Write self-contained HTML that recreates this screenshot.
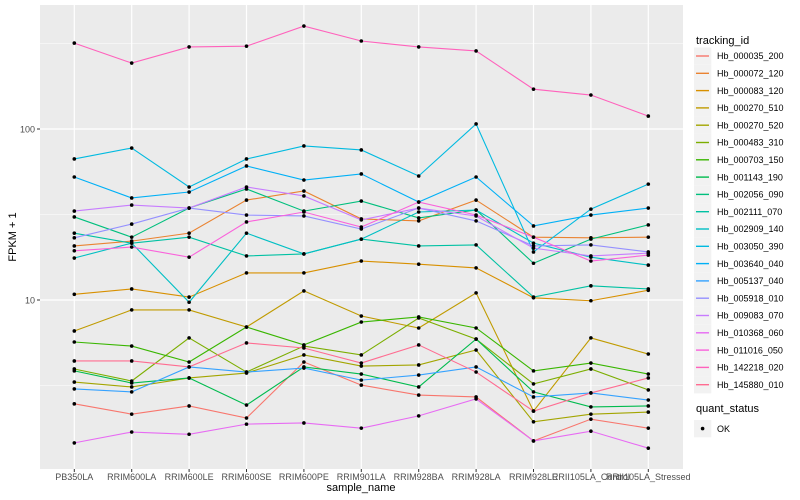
<!DOCTYPE html>
<html><head><meta charset="utf-8"><style>
body{margin:0;background:#fff}
svg{display:block;font-family:"Liberation Sans",sans-serif}
</style></head><body>
<svg id="chart" width="800" height="500" viewBox="0 0 800 500">
<rect x="0" y="0" width="800" height="500" fill="#fff"/>
<rect x="40" y="5" width="643" height="464" fill="#EBEBEB"/>
<g id="grid"></g>
<g id="series"></g>
<g id="axes"></g>
<text x="361" y="491" font-size="11" text-anchor="middle" fill="#000">sample_name</text>
<text transform="translate(16,237) rotate(-90)" font-size="11" text-anchor="middle" fill="#000">FPKM + 1</text>
<g id="legend"></g>
</svg>
<script>
const categories = ["PB350LA","RRIM600LA","RRIM600LE","RRIM600SE","RRIM600PE","RRIM901LA","RRIM928BA","RRIM928LA","RRIM928LE","RRII105LA_Control","RRII105LA_Stressed"];
const seriesNames = ["Hb_000035_200","Hb_000072_120","Hb_000083_120","Hb_000270_510","Hb_000270_520","Hb_000483_310","Hb_000703_150","Hb_001143_190","Hb_002056_090","Hb_002111_070","Hb_002909_140","Hb_003050_390","Hb_003640_040","Hb_005137_040","Hb_005918_010","Hb_009083_070","Hb_010368_060","Hb_011016_050","Hb_142218_020","Hb_145880_010"];
const seriesColors = ["#F8766D","#EA8331","#D89000","#C09B00","#A3A500","#7CAE00","#39B600","#00BB4E","#00BF7D","#00C1A3","#00BFC4","#00BAE0","#00B0F6","#35A2FF","#9590FF","#C77CFF","#E76BF3","#FA62DB","#FF62BC","#FF6C91"];
const s000035_200 = [2.47,2.15,2.40,2.04,4.34,3.18,2.78,2.71,1.50,2.01,1.78];
const s000072_120 = [20.7,22.1,24.6,38.4,43.4,29.8,29.0,38.4,23.3,23.1,23.3];
const s000083_120 = [10.8,11.6,10.4,14.4,14.4,16.9,16.2,15.4,10.3,9.9,11.4];
const s000270_510 = [6.59,8.75,8.75,6.95,11.3,8.06,6.86,11.0,2.24,6.0,4.83];
const s000270_520 = [3.31,3.10,3.50,3.74,4.77,4.11,4.17,5.10,1.94,2.15,2.21];
const s000483_310 = [3.95,3.36,6.0,3.79,5.38,4.77,7.85,5.91,3.23,3.95,2.98];
const s000703_150 = [5.68,5.38,4.34,6.95,5.46,7.43,7.96,6.86,3.85,4.28,3.69];
const s001143_190 = [3.85,3.27,3.50,2.43,4.06,3.69,3.10,5.91,2.90,2.37,2.40];
const s002056_090 = [30.6,23.3,34.5,44.6,33.1,37.9,30.2,33.6,16.4,22.7,27.5];
const s002111_070 = [24.6,21.5,23.3,18.1,18.6,22.7,20.7,21.0,10.4,12.1,11.6];
const s002909_140 = [17.6,21.5,9.7,24.6,18.6,22.7,32.7,33.6,21.5,17.8,16.0];
const s003050_390 = [66.8,77.4,45.8,66.8,79.6,75.4,53.1,107,19.1,34.0,47.6];
const s003640_040 = [52.4,39.5,42.8,60.8,50.3,54.6,37.4,52.4,27.1,31.4,34.5];
const s005137_040 = [3.02,2.90,4.06,3.79,4.00,3.40,3.64,4.06,2.71,2.86,2.60];
const s005918_010 = [23.1,27.8,34.5,31.4,31.0,26.0,34.5,29.0,20.7,21.0,19.1];
const s009083_070 = [33.1,35.9,34.5,45.8,40.6,29.4,34.5,31.0,20.1,18.1,18.8];
const s010368_060 = [1.46,1.69,1.64,1.88,1.91,1.78,2.10,2.64,1.50,1.71,1.36];
const s011016_050 = [19.4,20.4,17.8,28.6,32.7,26.7,37.4,31.4,23.3,16.9,18.3];
const s142218_020 = [318,243,302,305,400,327,302,286,171,158,119];
const s145880_010 = [4.40,4.40,4.06,5.61,5.24,4.28,5.46,3.79,2.24,2.86,3.50];
const seriesValues = [s000035_200,s000072_120,s000083_120,s000270_510,s000270_520,s000483_310,s000703_150,s001143_190,s002056_090,s002111_070,s002909_140,s003050_390,s003640_040,s005137_040,s005918_010,s009083_070,s010368_060,s011016_050,s142218_020,s145880_010];
const yTickValues = [10,100];
const yTickLabels = ["10","100"];
const yMinorValues = [3.1623,31.623,316.23];

const NS="http://www.w3.org/2000/svg";
function mk(tag,attrs,parent){const e=document.createElementNS(NS,tag);for(const k in attrs)e.setAttribute(k,attrs[k]);parent.appendChild(e);return e;}
function xScale(i){return 74.3+i*57.4;}
function yScale(v){return 300-171*(Math.log10(v)-1);}
const grid=document.getElementById('grid'),ser=document.getElementById('series'),axes=document.getElementById('axes'),leg=document.getElementById('legend');
yMinorValues.forEach(v=>{const l=mk('line',{x1:40,x2:683,y1:yScale(v),y2:yScale(v),stroke:'#fff','stroke-width':0.6},grid);

});
yTickValues.forEach((v,i)=>{const y=yScale(v);
const l=mk('line',{x1:40,x2:683,y1:y,y2:y,stroke:'#fff','stroke-width':1.2},grid);


const t=mk('line',{x1:37,x2:40,y1:y,y2:y,stroke:'#333','stroke-width':1},axes);


const tx=mk('text',{x:35,y:y+3.5,'font-size':9,'text-anchor':'end',fill:'#4d4d4d'},axes);tx.textContent=yTickLabels[i];

});
categories.forEach((c,i)=>{const x=xScale(i);
const l=mk('line',{x1:x,x2:x,y1:5,y2:469,stroke:'#fff','stroke-width':1.2},grid);


const t=mk('line',{x1:x,x2:x,y1:469,y2:472,stroke:'#333','stroke-width':1},axes);


const tx=mk('text',{x:x,y:480,'font-size':9,'text-anchor':'middle',fill:'#4d4d4d'},axes);tx.textContent=c;

});
seriesValues.forEach((vals,s)=>{
const pts=vals.map((v,i)=>xScale(i)+','+yScale(v)).join(' ');
const pl=mk('polyline',{points:pts,fill:'none',stroke:seriesColors[s],'stroke-width':1.1},ser);


vals.forEach((v,i)=>{const p=mk('circle',{cx:xScale(i),cy:yScale(v),r:1.8,fill:'#000'},ser);

});});
const lt=mk('text',{x:696,y:44,'font-size':11,fill:'#000'},leg);lt.textContent='tracking_id';


seriesNames.forEach((n,s)=>{const y=56+s*17.3;
const g=mk('g',{},leg);


mk('rect',{x:694,y:y-8.6,width:17.3,height:17.3,fill:'#F2F2F2'},g);
mk('line',{x1:696,x2:709,y1:y,y2:y,stroke:seriesColors[s],'stroke-width':1.4},g);
const t=mk('text',{x:717,y:y+3.2,'font-size':9,fill:'#000'},g);t.textContent=n;});
const qt=mk('text',{x:696,y:412,'font-size':11,fill:'#000'},leg);qt.textContent='quant_status';


const qg=mk('g',{},leg);


mk('rect',{x:694,y:420,width:17.3,height:17.3,fill:'#F2F2F2'},qg);
mk('circle',{cx:702.6,cy:428.6,r:1.8,fill:'#000'},qg);
const ok=mk('text',{x:717,y:432,'font-size':9,fill:'#000'},qg);ok.textContent='OK';
</script>
</body></html>
